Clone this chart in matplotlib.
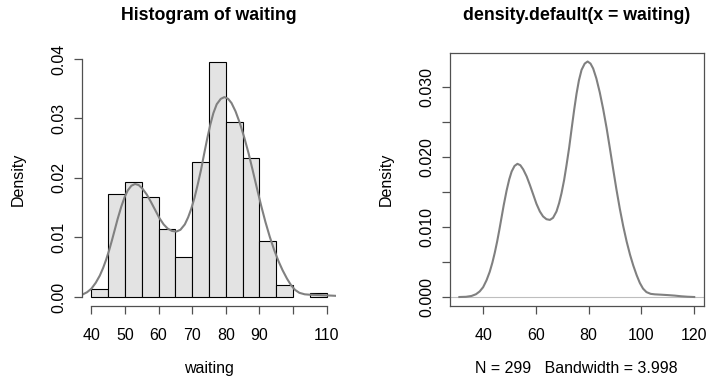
import numpy as np
import matplotlib.pyplot as plt

plt.rcParams['font.family'] = ['Liberation Sans', 'DejaVu Sans']

# histogram of waiting: breaks and counts (N = 299)
breaks = [40, 45, 50, 55, 60, 65, 70, 75, 80, 85, 90, 95, 100, 105, 110]
counts = [2, 26, 29, 25, 17, 10, 34, 59, 44, 35, 14, 3, 0, 1]
n_obs = 299
bandwidth = 3.998

# density curve
dens_x = [31.0, 33.5, 35.6, 37.3, 38.7, 40.0, 41.3, 42.5, 43.5, 44.4, 45.3,
          46.1, 47.0, 47.8, 48.9, 49.9, 50.8, 51.9, 53.0, 54.1, 55.2, 56.5,
          57.7, 59.0, 60.2, 61.5, 62.7, 64.0, 65.3, 66.5, 67.8, 68.8, 69.7,
          70.7, 71.6, 72.6, 73.5, 74.5, 75.4, 76.3, 77.3, 78.5, 79.6, 80.7,
          81.7, 82.9, 84.2, 85.5, 86.8, 88.0, 89.3, 90.5, 91.8, 93.1, 94.4,
          95.7, 96.9, 98.2, 99.4, 100.6, 101.9, 103.5, 105.1, 107.5, 110.1,
          112.6, 115.2, 117.5, 120.0]
dens_y = [0.0, 0.00003, 0.00015, 0.0004, 0.0008, 0.0014, 0.0024, 0.0036,
          0.0049, 0.0063, 0.0079, 0.0095, 0.0114, 0.0131, 0.0152, 0.0168,
          0.0179, 0.0187, 0.0190, 0.0188, 0.0182, 0.0172, 0.0160, 0.0146,
          0.0133, 0.0122, 0.0115, 0.0111, 0.0110, 0.0113, 0.0122, 0.0134,
          0.0148, 0.0167, 0.0188, 0.0213, 0.0239, 0.0267, 0.0290, 0.0309,
          0.0324, 0.0333, 0.0336, 0.0333, 0.0326, 0.0312, 0.0292, 0.0268,
          0.0241, 0.0213, 0.0182, 0.0154, 0.0126, 0.0101, 0.0079, 0.0060,
          0.0045, 0.0031, 0.0020, 0.0012, 0.0007, 0.00045, 0.00038, 0.00033,
          0.00027, 0.0002, 0.0001, 0.00004, 0.0]

hist_xticks = [40, 50, 60, 70, 80, 90, 100, 110]
hist_xlabels = ['40', '50', '60', '70', '80', '90', '', '110']
hist_yticks = [0.0, 0.01, 0.02, 0.03, 0.04]
hist_ylabels = ['0.00', '0.01', '0.02', '0.03', '0.04']

dens_xticks = [40, 60, 80, 100, 120]
dens_yticks = [0.0, 0.005, 0.01, 0.015, 0.02, 0.025, 0.03]
dens_ylabels = ['0.000', '', '0.010', '', '0.020', '', '0.030']

W, H = 707, 381
TXT = 11.5
TTL = 12.8
AX_COL = '#505050'
CURVE = '#808080'

fig = plt.figure(figsize=(W / 100, H / 100), dpi=100)
ax1 = fig.add_axes([82 / W, 1 - 306.4 / H, 254 / W, 253.6 / H])
ax2 = fig.add_axes([450 / W, 1 - 306.4 / H, 253.6 / W, 253.6 / H])

# left: histogram + density
edges = np.array(breaks, dtype=float)
dens = np.array(counts) / (n_obs * (edges[1] - edges[0]))
keep = dens > 0
ax1.bar(edges[:-1][keep], dens[keep], width=5, align='edge',
        color='#E3E3E3', edgecolor='black', linewidth=0.8)
ax1.plot(dens_x, dens_y, color=CURVE, lw=1.5)
ax1.set_xlim(37.2, 112.8)
ax1.set_ylim(-0.00158, 0.04104)
for s in ['top', 'right']:
    ax1.spines[s].set_visible(False)
ax1.spines['left'].set_bounds(0, 0.04)
ax1.spines['bottom'].set_bounds(40, 110)
ax1.set_xticks(hist_xticks)
ax1.set_xticklabels(hist_xlabels)
ax1.set_yticks(hist_yticks)
ax1.set_yticklabels(hist_ylabels, rotation=90, va='center')

# right: density plot
ax2.axhline(0, color='#BEBEBE', lw=0.8)
ax2.plot(dens_x, dens_y, color=CURVE, lw=1.5)
ax2.set_xlim(27.44, 123.56)
ax2.set_ylim(-0.00134, 0.03484)
ax2.set_xticks(dens_xticks)
ax2.set_yticks(dens_yticks)
ax2.set_yticklabels(dens_ylabels, rotation=90, va='center')

for ax in (ax1, ax2):
    for s in ax.spines.values():
        s.set_color(AX_COL)
        s.set_linewidth(0.9)
    ax.tick_params(length=5.5, width=0.9, color=AX_COL, labelsize=TXT,
                   labelcolor='black')
    ax.tick_params(axis='x', pad=10)
    ax.tick_params(axis='y', pad=6)
    ax.set_ylabel('Density', fontsize=TXT, labelpad=18)

ax1.set_xlabel('waiting', fontsize=TXT, labelpad=13)
ax2.set_xlabel('N = %d   Bandwidth = %.3f' % (n_obs, bandwidth),
               fontsize=TXT, labelpad=13)

fig.text(209 / W, 1 - 16 / H, 'Histogram of waiting', ha='center',
         va='center', fontsize=TTL, fontweight='bold')
fig.text(577 / W, 1 - 16 / H, 'density.default(x = waiting)', ha='center',
         va='center', fontsize=TTL, fontweight='bold')

fig.savefig('out.png', dpi=100)
